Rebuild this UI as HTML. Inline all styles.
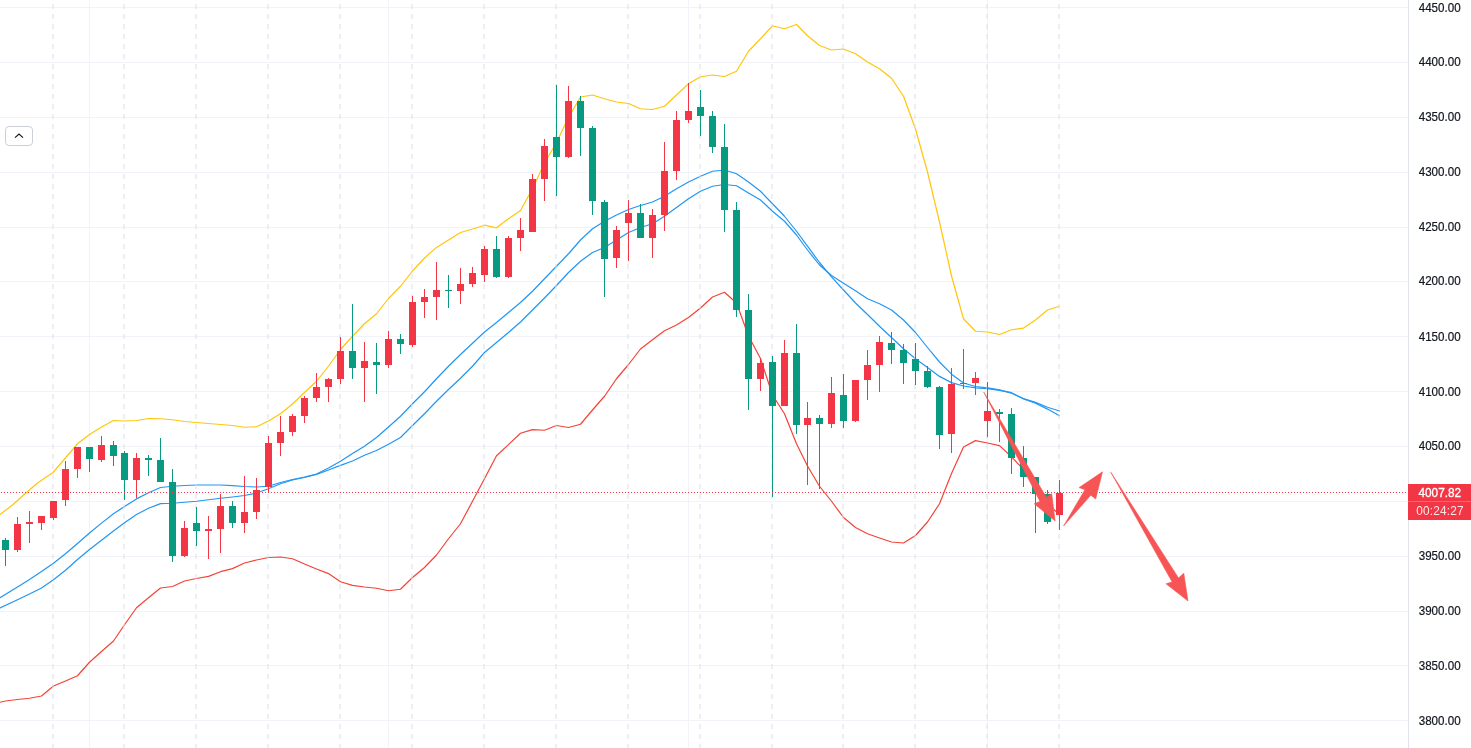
<!DOCTYPE html>
<html><head><meta charset="utf-8"><title>Chart</title>
<style>html,body{margin:0;padding:0;background:#fff;overflow:hidden}body{width:1471px;height:748px;font-family:"Liberation Sans",sans-serif}svg{display:block;will-change:transform}</style>
</head><body>
<svg width="1471" height="748" viewBox="0 0 1471 748">
<rect width="1471" height="748" fill="#fff"/>
<g fill="#f1f3f9" shape-rendering="crispEdges">
<rect x="0" y="7" width="1408" height="1"/>
<rect x="0" y="62" width="1408" height="1"/>
<rect x="0" y="117" width="1408" height="1"/>
<rect x="0" y="172" width="1408" height="1"/>
<rect x="0" y="227" width="1408" height="1"/>
<rect x="0" y="281" width="1408" height="1"/>
<rect x="0" y="336" width="1408" height="1"/>
<rect x="0" y="391" width="1408" height="1"/>
<rect x="0" y="446" width="1408" height="1"/>
<rect x="0" y="501" width="1408" height="1"/>
<rect x="0" y="556" width="1408" height="1"/>
<rect x="0" y="611" width="1408" height="1"/>
<rect x="0" y="665" width="1408" height="1"/>
<rect x="0" y="720" width="1408" height="1"/>
<rect x="89" y="0" width="1" height="748"/>
<rect x="388" y="0" width="1" height="748"/>
<rect x="688" y="0" width="1" height="748"/>
<rect x="987" y="0" width="1" height="748"/>
</g>
<g fill="none" stroke-width="1.2" stroke-linejoin="round" stroke-linecap="round">
<path d="M0,514.5 L12.5,505 L25,493.75 L37.5,483 L53,472.5 L65.5,458 L77.5,443.75 L89.5,434.5 L101.5,427 L113.5,420.5 L124.5,421 L136.5,420.5 L148.5,418.5 L160.5,418.75 L172.5,419.75 L184.5,421.5 L196.5,422.5 L208.5,423.5 L220.5,424.5 L232.5,425.5 L244.5,427.25 L256.5,426.75 L268.5,421 L280.5,413.75 L292.5,404 L304.5,392.5 L316.5,381.25 L328.5,366.25 L340.5,349.5 L352.5,336.25 L364.5,323.75 L376.5,313.75 L388.5,298.5 L400.5,286.25 L412.5,271 L424.5,258 L436.5,247.4 L448.5,239.9 L460.5,232.5 L472.5,229 L484.5,225.2 L496.5,227.8 L508.5,218.75 L520.5,210.5 L532.5,188.75 L544.5,163 L556.5,142.5 L568.5,117.5 L580.5,97 L592.5,95 L604.5,98.75 L616.5,102 L628.5,103.5 L640.5,108.75 L652.5,109.5 L664.5,106.25 L676.5,95 L688.5,83.75 L700.5,76.75 L712.5,75 L724.5,76.5 L736.5,71.25 L748.5,51.25 L760.5,38.75 L772.5,25.75 L784.5,28.75 L796.5,24.5 L807.5,35.75 L819.5,45.5 L831.5,50 L843.5,49 L855.5,53.75 L867.5,62 L879.5,68.75 L891.5,78.25 L903.5,96.25 L915.5,129 L927.5,172 L939.5,222 L951.5,276 L963.5,318.75 L975.5,331.25 L987.5,332 L999.5,334.5 L1011.5,329.75 L1023.5,328.1 L1035.5,320 L1047.5,310 L1059.5,306.25" stroke="#ffc60a"/>
<path d="M-6.5,703 L0,702.25 L5.5,701 L17.5,699.5 L29.5,698.25 L41.5,696 L53.5,686 L65.5,681 L77.5,675.75 L89.5,662.25 L101.5,651.5 L113.5,641 L124.5,624.75 L136.5,607.75 L148.5,597.75 L160.5,588 L172.5,586.5 L184.5,581 L196.5,578.5 L208.5,576.4 L220.5,571.7 L232.5,568.6 L244.5,563 L256.5,560 L268.5,557.5 L280.5,557 L292.5,558.75 L304.5,564 L316.5,569 L328.5,573.6 L340.5,581.75 L352.5,585.4 L364.5,587 L376.5,588.25 L388.5,590.75 L400.5,589.25 L412.5,577.5 L424.5,567.5 L436.5,555 L448.5,538.75 L460.5,523.75 L472.5,501.25 L484.5,478.75 L496.5,455.75 L508.5,444.6 L520.5,433.25 L532.5,429.6 L544.5,430.25 L556.5,425.5 L568.5,427.5 L580.5,424.25 L592.5,410 L604.5,396.25 L616.5,378.75 L628.5,364.5 L640.5,349 L652.5,339.8 L664.5,330.7 L676.5,325 L688.5,317.5 L700.5,308 L712.5,297 L724.5,292.2 L736.5,303 L748.5,336 L760.5,358.5 L772.5,395 L784.5,413.75 L796.5,443.75 L807.5,466 L819.5,486.25 L831.5,501.25 L843.5,517.5 L855.5,527.5 L867.5,533.75 L879.5,538 L891.5,542 L903.5,543 L915.5,535.5 L927.5,522 L939.5,503.75 L951.5,473.5 L963.5,447 L975.5,440.6 L987.5,443 L999.5,445.6 L1011.5,456.8 L1023.5,469.4 L1035.5,485 L1047.5,504 L1059.5,514.5" stroke="#f44336"/>
<path d="M-6.5,601.6 L0,597.75 L17.5,587 L29.5,579.5 L41.5,571.6 L53.5,563.3 L65.5,553.8 L77.5,543.5 L89.5,533 L101.5,523.1 L113.5,513.7 L124.5,506.5 L136.5,498.9 L148.5,492.8 L160.5,487.5 L172.5,486.25 L184.5,485.5 L196.5,485 L208.5,485 L220.5,485 L232.5,485.7 L244.5,486.5 L256.5,487 L268.5,486.25 L280.5,482.5 L292.5,479.5 L304.5,477 L316.5,474 L328.5,468 L340.5,461.2 L352.5,453.6 L364.5,446.25 L376.5,437.5 L388.5,427 L400.5,416.25 L412.5,403.75 L424.5,391.75 L436.5,378.75 L448.5,366.25 L460.5,354.5 L472.5,343.25 L484.5,332 L496.5,322.5 L508.5,312.5 L520.5,302.5 L532.5,291.25 L544.5,278.75 L556.5,266.25 L568.5,253.75 L580.5,240 L592.5,228.75 L604.5,221.25 L616.5,215 L628.5,209.5 L640.5,205.5 L652.5,202 L664.5,196.25 L676.5,188.75 L688.5,182 L700.5,176.25 L712.5,171.25 L724.5,170 L736.5,173.75 L748.5,182 L760.5,191.25 L772.5,203.75 L784.5,216.25 L796.5,231.25 L807.5,246.2 L819.5,262.5 L831.5,276.8 L843.5,290 L855.5,303 L867.5,314.5 L879.5,326.25 L891.5,337.5 L903.5,348.75 L915.5,358.75 L927.5,367.5 L939.5,376.4 L951.5,382.6 L963.5,386 L975.5,387.9 L987.5,388.6 L999.5,390.3 L1011.5,392.7 L1023.5,399 L1035.5,403.3 L1047.5,409.1 L1059.5,415.8" stroke="#2196f3"/>
<path d="M-6.5,611 L0,608 L17.5,599.75 L29.5,594 L41.5,588 L53.5,579.8 L65.5,570.3 L77.5,559.5 L89.5,549.5 L101.5,540.2 L113.5,531 L124.5,522.8 L136.5,514.5 L148.5,508.3 L160.5,503.6 L172.5,503.25 L184.5,502.25 L196.5,501.25 L208.5,499.75 L220.5,498.25 L232.5,497 L244.5,495.5 L256.5,493 L268.5,488.75 L280.5,483.75 L292.5,480 L304.5,477.5 L316.5,474.4 L328.5,470 L340.5,465.4 L352.5,461 L364.5,455.2 L376.5,450.5 L388.5,444.25 L400.5,437.5 L412.5,425.5 L424.5,413.75 L436.5,401.25 L448.5,389.5 L460.5,378.25 L472.5,366.25 L484.5,352.5 L496.5,342.5 L508.5,332.5 L520.5,322 L532.5,310 L544.5,298 L556.5,285.5 L568.5,272.5 L580.5,261.25 L592.5,252.5 L604.5,247.5 L616.5,240 L628.5,232.5 L640.5,227.5 L652.5,223.75 L664.5,216.25 L676.5,207.5 L688.5,198.75 L700.5,191.25 L712.5,186.25 L724.5,184.5 L736.5,185.75 L748.5,193 L760.5,200 L772.5,211.25 L784.5,221.25 L796.5,235 L807.5,250 L819.5,265 L831.5,275.5 L843.5,283.2 L855.5,290.8 L867.5,298.75 L879.5,303.75 L891.5,310 L903.5,320 L915.5,332.5 L927.5,347.5 L939.5,362 L951.5,374.2 L963.5,383 L975.5,386.5 L987.5,387.9 L999.5,389.8 L1011.5,393.2 L1023.5,398.5 L1035.5,402.4 L1047.5,407.2 L1059.5,411" stroke="#2196f3"/>
</g>
<g stroke="#dddfe9" stroke-opacity="0.5" stroke-width="2" stroke-dasharray="5 5" shape-rendering="crispEdges">
<line x1="53" y1="-6" x2="53" y2="748"/>
<line x1="124" y1="-6" x2="124" y2="748"/>
<line x1="196" y1="-6" x2="196" y2="748"/>
<line x1="268" y1="-6" x2="268" y2="748"/>
<line x1="340" y1="-6" x2="340" y2="748"/>
<line x1="412" y1="-6" x2="412" y2="748"/>
<line x1="484" y1="-6" x2="484" y2="748"/>
<line x1="556" y1="-6" x2="556" y2="748"/>
<line x1="628" y1="-6" x2="628" y2="748"/>
<line x1="700" y1="-6" x2="700" y2="748"/>
<line x1="772" y1="-6" x2="772" y2="748"/>
<line x1="843" y1="-6" x2="843" y2="748"/>
<line x1="915" y1="-6" x2="915" y2="748"/>
<line x1="987" y1="-6" x2="987" y2="748"/>
<line x1="1059" y1="-6" x2="1059" y2="748"/>
</g>
<g shape-rendering="crispEdges">
<rect x="5" y="538" width="1" height="28" fill="#089981"/>
<rect x="2" y="540" width="7" height="10" fill="#089981"/>
<rect x="17" y="517" width="1" height="35" fill="#f23645"/>
<rect x="14" y="524" width="7" height="26" fill="#f23645"/>
<rect x="29" y="511" width="1" height="32" fill="#f23645"/>
<rect x="26" y="522" width="7" height="2" fill="#f23645"/>
<rect x="41" y="516" width="1" height="14" fill="#f23645"/>
<rect x="38" y="516" width="7" height="7" fill="#f23645"/>
<rect x="53" y="501" width="1" height="19" fill="#f23645"/>
<rect x="50" y="501" width="7" height="17" fill="#f23645"/>
<rect x="65" y="461" width="1" height="45" fill="#f23645"/>
<rect x="62" y="469" width="7" height="31" fill="#f23645"/>
<rect x="77" y="447" width="1" height="31" fill="#f23645"/>
<rect x="74" y="447" width="7" height="22" fill="#f23645"/>
<rect x="89" y="447" width="1" height="25" fill="#089981"/>
<rect x="86" y="447" width="7" height="12" fill="#089981"/>
<rect x="101" y="436" width="1" height="26" fill="#f23645"/>
<rect x="98" y="445" width="7" height="15" fill="#f23645"/>
<rect x="113" y="441" width="1" height="25" fill="#089981"/>
<rect x="110" y="445" width="7" height="11" fill="#089981"/>
<rect x="124" y="451" width="1" height="49" fill="#089981"/>
<rect x="121" y="453" width="7" height="27" fill="#089981"/>
<rect x="136" y="453" width="1" height="45" fill="#f23645"/>
<rect x="133" y="458" width="7" height="22" fill="#f23645"/>
<rect x="148" y="455" width="1" height="21" fill="#089981"/>
<rect x="145" y="458" width="7" height="2" fill="#089981"/>
<rect x="160" y="438" width="1" height="44" fill="#089981"/>
<rect x="157" y="460" width="7" height="22" fill="#089981"/>
<rect x="172" y="469" width="1" height="93" fill="#089981"/>
<rect x="169" y="482" width="7" height="74" fill="#089981"/>
<rect x="184" y="521" width="1" height="36" fill="#f23645"/>
<rect x="181" y="528" width="7" height="28" fill="#f23645"/>
<rect x="196" y="507" width="1" height="39" fill="#089981"/>
<rect x="193" y="523" width="7" height="8" fill="#089981"/>
<rect x="208" y="516" width="1" height="43" fill="#f23645"/>
<rect x="205" y="529" width="7" height="2" fill="#f23645"/>
<rect x="220" y="494" width="1" height="59" fill="#f23645"/>
<rect x="217" y="506" width="7" height="23" fill="#f23645"/>
<rect x="232" y="501" width="1" height="27" fill="#089981"/>
<rect x="229" y="506" width="7" height="17" fill="#089981"/>
<rect x="244" y="476" width="1" height="57" fill="#f23645"/>
<rect x="241" y="512" width="7" height="11" fill="#f23645"/>
<rect x="256" y="478" width="1" height="41" fill="#f23645"/>
<rect x="253" y="490" width="7" height="22" fill="#f23645"/>
<rect x="268" y="436" width="1" height="57" fill="#f23645"/>
<rect x="265" y="443" width="7" height="44" fill="#f23645"/>
<rect x="280" y="416" width="1" height="40" fill="#f23645"/>
<rect x="277" y="432" width="7" height="11" fill="#f23645"/>
<rect x="292" y="414" width="1" height="22" fill="#f23645"/>
<rect x="289" y="416" width="7" height="16" fill="#f23645"/>
<rect x="304" y="396" width="1" height="27" fill="#f23645"/>
<rect x="301" y="398" width="7" height="18" fill="#f23645"/>
<rect x="316" y="373" width="1" height="29" fill="#f23645"/>
<rect x="313" y="387" width="7" height="11" fill="#f23645"/>
<rect x="328" y="378" width="1" height="24" fill="#f23645"/>
<rect x="325" y="379" width="7" height="8" fill="#f23645"/>
<rect x="340" y="337" width="1" height="47" fill="#f23645"/>
<rect x="337" y="351" width="7" height="28" fill="#f23645"/>
<rect x="352" y="304" width="1" height="75" fill="#089981"/>
<rect x="349" y="351" width="7" height="17" fill="#089981"/>
<rect x="364" y="342" width="1" height="60" fill="#f23645"/>
<rect x="361" y="361" width="7" height="7" fill="#f23645"/>
<rect x="376" y="343" width="1" height="51" fill="#089981"/>
<rect x="373" y="362" width="7" height="3" fill="#089981"/>
<rect x="388" y="331" width="1" height="37" fill="#f23645"/>
<rect x="385" y="339" width="7" height="26" fill="#f23645"/>
<rect x="400" y="334" width="1" height="20" fill="#089981"/>
<rect x="397" y="339" width="7" height="5" fill="#089981"/>
<rect x="412" y="296" width="1" height="51" fill="#f23645"/>
<rect x="409" y="302" width="7" height="43" fill="#f23645"/>
<rect x="424" y="289" width="1" height="29" fill="#f23645"/>
<rect x="421" y="297" width="7" height="5" fill="#f23645"/>
<rect x="436" y="262" width="1" height="58" fill="#f23645"/>
<rect x="433" y="290" width="7" height="7" fill="#f23645"/>
<rect x="448" y="275" width="1" height="33" fill="#089981"/>
<rect x="445" y="290" width="7" height="1" fill="#089981"/>
<rect x="460" y="268" width="1" height="36" fill="#f23645"/>
<rect x="457" y="284" width="7" height="7" fill="#f23645"/>
<rect x="472" y="267" width="1" height="20" fill="#f23645"/>
<rect x="469" y="273" width="7" height="11" fill="#f23645"/>
<rect x="484" y="246" width="1" height="36" fill="#f23645"/>
<rect x="481" y="249" width="7" height="26" fill="#f23645"/>
<rect x="496" y="236" width="1" height="42" fill="#089981"/>
<rect x="493" y="249" width="7" height="28" fill="#089981"/>
<rect x="508" y="236" width="1" height="42" fill="#f23645"/>
<rect x="505" y="238" width="7" height="39" fill="#f23645"/>
<rect x="520" y="218" width="1" height="33" fill="#f23645"/>
<rect x="517" y="230" width="7" height="8" fill="#f23645"/>
<rect x="532" y="174" width="1" height="58" fill="#f23645"/>
<rect x="529" y="179" width="7" height="53" fill="#f23645"/>
<rect x="544" y="139" width="1" height="62" fill="#f23645"/>
<rect x="541" y="146" width="7" height="33" fill="#f23645"/>
<rect x="556" y="85" width="1" height="111" fill="#089981"/>
<rect x="553" y="137" width="7" height="20" fill="#089981"/>
<rect x="568" y="86" width="1" height="72" fill="#f23645"/>
<rect x="565" y="101" width="7" height="56" fill="#f23645"/>
<rect x="580" y="96" width="1" height="60" fill="#089981"/>
<rect x="577" y="101" width="7" height="27" fill="#089981"/>
<rect x="592" y="126" width="1" height="89" fill="#089981"/>
<rect x="589" y="128" width="7" height="73" fill="#089981"/>
<rect x="604" y="200" width="1" height="97" fill="#089981"/>
<rect x="601" y="202" width="7" height="57" fill="#089981"/>
<rect x="616" y="226" width="1" height="42" fill="#f23645"/>
<rect x="613" y="230" width="7" height="28" fill="#f23645"/>
<rect x="628" y="200" width="1" height="61" fill="#f23645"/>
<rect x="625" y="213" width="7" height="10" fill="#f23645"/>
<rect x="640" y="204" width="1" height="34" fill="#089981"/>
<rect x="637" y="213" width="7" height="25" fill="#089981"/>
<rect x="652" y="209" width="1" height="49" fill="#f23645"/>
<rect x="649" y="215" width="7" height="23" fill="#f23645"/>
<rect x="664" y="142" width="1" height="89" fill="#f23645"/>
<rect x="661" y="171" width="7" height="44" fill="#f23645"/>
<rect x="676" y="111" width="1" height="69" fill="#f23645"/>
<rect x="673" y="120" width="7" height="51" fill="#f23645"/>
<rect x="688" y="83" width="1" height="40" fill="#f23645"/>
<rect x="685" y="111" width="7" height="9" fill="#f23645"/>
<rect x="700" y="90" width="1" height="46" fill="#089981"/>
<rect x="697" y="107" width="7" height="9" fill="#089981"/>
<rect x="712" y="111" width="1" height="42" fill="#089981"/>
<rect x="709" y="116" width="7" height="31" fill="#089981"/>
<rect x="724" y="124" width="1" height="108" fill="#089981"/>
<rect x="721" y="147" width="7" height="63" fill="#089981"/>
<rect x="736" y="202" width="1" height="115" fill="#089981"/>
<rect x="733" y="210" width="7" height="100" fill="#089981"/>
<rect x="748" y="294" width="1" height="116" fill="#089981"/>
<rect x="745" y="310" width="7" height="69" fill="#089981"/>
<rect x="760" y="358" width="1" height="33" fill="#f23645"/>
<rect x="757" y="363" width="7" height="16" fill="#f23645"/>
<rect x="772" y="356" width="1" height="141" fill="#089981"/>
<rect x="769" y="362" width="7" height="44" fill="#089981"/>
<rect x="784" y="340" width="1" height="66" fill="#f23645"/>
<rect x="781" y="353" width="7" height="53" fill="#f23645"/>
<rect x="796" y="324" width="1" height="110" fill="#089981"/>
<rect x="793" y="353" width="7" height="72" fill="#089981"/>
<rect x="807" y="402" width="1" height="83" fill="#f23645"/>
<rect x="804" y="418" width="7" height="7" fill="#f23645"/>
<rect x="819" y="415" width="1" height="74" fill="#089981"/>
<rect x="816" y="418" width="7" height="6" fill="#089981"/>
<rect x="831" y="377" width="1" height="51" fill="#f23645"/>
<rect x="828" y="393" width="7" height="31" fill="#f23645"/>
<rect x="843" y="374" width="1" height="54" fill="#089981"/>
<rect x="840" y="395" width="7" height="26" fill="#089981"/>
<rect x="855" y="380" width="1" height="42" fill="#f23645"/>
<rect x="852" y="380" width="7" height="41" fill="#f23645"/>
<rect x="867" y="350" width="1" height="50" fill="#f23645"/>
<rect x="864" y="365" width="7" height="15" fill="#f23645"/>
<rect x="879" y="336" width="1" height="56" fill="#f23645"/>
<rect x="876" y="342" width="7" height="23" fill="#f23645"/>
<rect x="891" y="332" width="1" height="32" fill="#089981"/>
<rect x="888" y="343" width="7" height="7" fill="#089981"/>
<rect x="903" y="344" width="1" height="40" fill="#089981"/>
<rect x="900" y="350" width="7" height="13" fill="#089981"/>
<rect x="915" y="343" width="1" height="42" fill="#089981"/>
<rect x="912" y="359" width="7" height="12" fill="#089981"/>
<rect x="927" y="366" width="1" height="22" fill="#089981"/>
<rect x="924" y="371" width="7" height="16" fill="#089981"/>
<rect x="939" y="386" width="1" height="63" fill="#089981"/>
<rect x="936" y="387" width="7" height="48" fill="#089981"/>
<rect x="951" y="368" width="1" height="85" fill="#f23645"/>
<rect x="948" y="384" width="7" height="50" fill="#f23645"/>
<rect x="963" y="349" width="1" height="40" fill="#f23645"/>
<rect x="960" y="383" width="7" height="1" fill="#f23645"/>
<rect x="975" y="372" width="1" height="23" fill="#f23645"/>
<rect x="972" y="378" width="7" height="5" fill="#f23645"/>
<rect x="987" y="382" width="1" height="55" fill="#f23645"/>
<rect x="984" y="411" width="7" height="10" fill="#f23645"/>
<rect x="999" y="409" width="1" height="33" fill="#089981"/>
<rect x="996" y="412" width="7" height="2" fill="#089981"/>
<rect x="1011" y="408" width="1" height="66" fill="#089981"/>
<rect x="1008" y="414" width="7" height="44" fill="#089981"/>
<rect x="1023" y="446" width="1" height="41" fill="#089981"/>
<rect x="1020" y="458" width="7" height="19" fill="#089981"/>
<rect x="1035" y="477" width="1" height="56" fill="#089981"/>
<rect x="1032" y="477" width="7" height="17" fill="#089981"/>
<rect x="1047" y="490" width="1" height="34" fill="#089981"/>
<rect x="1044" y="494" width="7" height="28" fill="#089981"/>
<rect x="1059" y="480" width="1" height="50" fill="#f23645"/>
<rect x="1056" y="493" width="7" height="22" fill="#f23645"/>
</g>
<g fill="#f23645" shape-rendering="crispEdges">
<rect x="1" y="492" width="1" height="1"/>
<rect x="4" y="492" width="1" height="1"/>
<rect x="7" y="492" width="1" height="1"/>
<rect x="10" y="492" width="1" height="1"/>
<rect x="13" y="492" width="1" height="1"/>
<rect x="16" y="492" width="1" height="1"/>
<rect x="19" y="492" width="1" height="1"/>
<rect x="22" y="492" width="1" height="1"/>
<rect x="25" y="492" width="1" height="1"/>
<rect x="28" y="492" width="1" height="1"/>
<rect x="31" y="492" width="1" height="1"/>
<rect x="34" y="492" width="1" height="1"/>
<rect x="37" y="492" width="1" height="1"/>
<rect x="40" y="492" width="1" height="1"/>
<rect x="43" y="492" width="1" height="1"/>
<rect x="46" y="492" width="1" height="1"/>
<rect x="49" y="492" width="1" height="1"/>
<rect x="52" y="492" width="1" height="1"/>
<rect x="55" y="492" width="1" height="1"/>
<rect x="58" y="492" width="1" height="1"/>
<rect x="61" y="492" width="1" height="1"/>
<rect x="64" y="492" width="1" height="1"/>
<rect x="67" y="492" width="1" height="1"/>
<rect x="70" y="492" width="1" height="1"/>
<rect x="73" y="492" width="1" height="1"/>
<rect x="76" y="492" width="1" height="1"/>
<rect x="79" y="492" width="1" height="1"/>
<rect x="82" y="492" width="1" height="1"/>
<rect x="85" y="492" width="1" height="1"/>
<rect x="88" y="492" width="1" height="1"/>
<rect x="91" y="492" width="1" height="1"/>
<rect x="94" y="492" width="1" height="1"/>
<rect x="97" y="492" width="1" height="1"/>
<rect x="100" y="492" width="1" height="1"/>
<rect x="103" y="492" width="1" height="1"/>
<rect x="106" y="492" width="1" height="1"/>
<rect x="109" y="492" width="1" height="1"/>
<rect x="112" y="492" width="1" height="1"/>
<rect x="115" y="492" width="1" height="1"/>
<rect x="118" y="492" width="1" height="1"/>
<rect x="121" y="492" width="1" height="1"/>
<rect x="124" y="492" width="1" height="1"/>
<rect x="127" y="492" width="1" height="1"/>
<rect x="130" y="492" width="1" height="1"/>
<rect x="133" y="492" width="1" height="1"/>
<rect x="136" y="492" width="1" height="1"/>
<rect x="139" y="492" width="1" height="1"/>
<rect x="142" y="492" width="1" height="1"/>
<rect x="145" y="492" width="1" height="1"/>
<rect x="148" y="492" width="1" height="1"/>
<rect x="151" y="492" width="1" height="1"/>
<rect x="154" y="492" width="1" height="1"/>
<rect x="157" y="492" width="1" height="1"/>
<rect x="160" y="492" width="1" height="1"/>
<rect x="163" y="492" width="1" height="1"/>
<rect x="166" y="492" width="1" height="1"/>
<rect x="169" y="492" width="1" height="1"/>
<rect x="172" y="492" width="1" height="1"/>
<rect x="175" y="492" width="1" height="1"/>
<rect x="178" y="492" width="1" height="1"/>
<rect x="181" y="492" width="1" height="1"/>
<rect x="184" y="492" width="1" height="1"/>
<rect x="187" y="492" width="1" height="1"/>
<rect x="190" y="492" width="1" height="1"/>
<rect x="193" y="492" width="1" height="1"/>
<rect x="196" y="492" width="1" height="1"/>
<rect x="199" y="492" width="1" height="1"/>
<rect x="202" y="492" width="1" height="1"/>
<rect x="205" y="492" width="1" height="1"/>
<rect x="208" y="492" width="1" height="1"/>
<rect x="211" y="492" width="1" height="1"/>
<rect x="214" y="492" width="1" height="1"/>
<rect x="217" y="492" width="1" height="1"/>
<rect x="220" y="492" width="1" height="1"/>
<rect x="223" y="492" width="1" height="1"/>
<rect x="226" y="492" width="1" height="1"/>
<rect x="229" y="492" width="1" height="1"/>
<rect x="232" y="492" width="1" height="1"/>
<rect x="235" y="492" width="1" height="1"/>
<rect x="238" y="492" width="1" height="1"/>
<rect x="241" y="492" width="1" height="1"/>
<rect x="244" y="492" width="1" height="1"/>
<rect x="247" y="492" width="1" height="1"/>
<rect x="250" y="492" width="1" height="1"/>
<rect x="253" y="492" width="1" height="1"/>
<rect x="256" y="492" width="1" height="1"/>
<rect x="259" y="492" width="1" height="1"/>
<rect x="262" y="492" width="1" height="1"/>
<rect x="265" y="492" width="1" height="1"/>
<rect x="268" y="492" width="1" height="1"/>
<rect x="271" y="492" width="1" height="1"/>
<rect x="274" y="492" width="1" height="1"/>
<rect x="277" y="492" width="1" height="1"/>
<rect x="280" y="492" width="1" height="1"/>
<rect x="283" y="492" width="1" height="1"/>
<rect x="286" y="492" width="1" height="1"/>
<rect x="289" y="492" width="1" height="1"/>
<rect x="292" y="492" width="1" height="1"/>
<rect x="295" y="492" width="1" height="1"/>
<rect x="298" y="492" width="1" height="1"/>
<rect x="301" y="492" width="1" height="1"/>
<rect x="304" y="492" width="1" height="1"/>
<rect x="307" y="492" width="1" height="1"/>
<rect x="310" y="492" width="1" height="1"/>
<rect x="313" y="492" width="1" height="1"/>
<rect x="316" y="492" width="1" height="1"/>
<rect x="319" y="492" width="1" height="1"/>
<rect x="322" y="492" width="1" height="1"/>
<rect x="325" y="492" width="1" height="1"/>
<rect x="328" y="492" width="1" height="1"/>
<rect x="331" y="492" width="1" height="1"/>
<rect x="334" y="492" width="1" height="1"/>
<rect x="337" y="492" width="1" height="1"/>
<rect x="340" y="492" width="1" height="1"/>
<rect x="343" y="492" width="1" height="1"/>
<rect x="346" y="492" width="1" height="1"/>
<rect x="349" y="492" width="1" height="1"/>
<rect x="352" y="492" width="1" height="1"/>
<rect x="355" y="492" width="1" height="1"/>
<rect x="358" y="492" width="1" height="1"/>
<rect x="361" y="492" width="1" height="1"/>
<rect x="364" y="492" width="1" height="1"/>
<rect x="367" y="492" width="1" height="1"/>
<rect x="370" y="492" width="1" height="1"/>
<rect x="373" y="492" width="1" height="1"/>
<rect x="376" y="492" width="1" height="1"/>
<rect x="379" y="492" width="1" height="1"/>
<rect x="382" y="492" width="1" height="1"/>
<rect x="385" y="492" width="1" height="1"/>
<rect x="388" y="492" width="1" height="1"/>
<rect x="391" y="492" width="1" height="1"/>
<rect x="394" y="492" width="1" height="1"/>
<rect x="397" y="492" width="1" height="1"/>
<rect x="400" y="492" width="1" height="1"/>
<rect x="403" y="492" width="1" height="1"/>
<rect x="406" y="492" width="1" height="1"/>
<rect x="409" y="492" width="1" height="1"/>
<rect x="412" y="492" width="1" height="1"/>
<rect x="415" y="492" width="1" height="1"/>
<rect x="418" y="492" width="1" height="1"/>
<rect x="421" y="492" width="1" height="1"/>
<rect x="424" y="492" width="1" height="1"/>
<rect x="427" y="492" width="1" height="1"/>
<rect x="430" y="492" width="1" height="1"/>
<rect x="433" y="492" width="1" height="1"/>
<rect x="436" y="492" width="1" height="1"/>
<rect x="439" y="492" width="1" height="1"/>
<rect x="442" y="492" width="1" height="1"/>
<rect x="445" y="492" width="1" height="1"/>
<rect x="448" y="492" width="1" height="1"/>
<rect x="451" y="492" width="1" height="1"/>
<rect x="454" y="492" width="1" height="1"/>
<rect x="457" y="492" width="1" height="1"/>
<rect x="460" y="492" width="1" height="1"/>
<rect x="463" y="492" width="1" height="1"/>
<rect x="466" y="492" width="1" height="1"/>
<rect x="469" y="492" width="1" height="1"/>
<rect x="472" y="492" width="1" height="1"/>
<rect x="475" y="492" width="1" height="1"/>
<rect x="478" y="492" width="1" height="1"/>
<rect x="481" y="492" width="1" height="1"/>
<rect x="484" y="492" width="1" height="1"/>
<rect x="487" y="492" width="1" height="1"/>
<rect x="490" y="492" width="1" height="1"/>
<rect x="493" y="492" width="1" height="1"/>
<rect x="496" y="492" width="1" height="1"/>
<rect x="499" y="492" width="1" height="1"/>
<rect x="502" y="492" width="1" height="1"/>
<rect x="505" y="492" width="1" height="1"/>
<rect x="508" y="492" width="1" height="1"/>
<rect x="511" y="492" width="1" height="1"/>
<rect x="514" y="492" width="1" height="1"/>
<rect x="517" y="492" width="1" height="1"/>
<rect x="520" y="492" width="1" height="1"/>
<rect x="523" y="492" width="1" height="1"/>
<rect x="526" y="492" width="1" height="1"/>
<rect x="529" y="492" width="1" height="1"/>
<rect x="532" y="492" width="1" height="1"/>
<rect x="535" y="492" width="1" height="1"/>
<rect x="538" y="492" width="1" height="1"/>
<rect x="541" y="492" width="1" height="1"/>
<rect x="544" y="492" width="1" height="1"/>
<rect x="547" y="492" width="1" height="1"/>
<rect x="550" y="492" width="1" height="1"/>
<rect x="553" y="492" width="1" height="1"/>
<rect x="556" y="492" width="1" height="1"/>
<rect x="559" y="492" width="1" height="1"/>
<rect x="562" y="492" width="1" height="1"/>
<rect x="565" y="492" width="1" height="1"/>
<rect x="568" y="492" width="1" height="1"/>
<rect x="571" y="492" width="1" height="1"/>
<rect x="574" y="492" width="1" height="1"/>
<rect x="577" y="492" width="1" height="1"/>
<rect x="580" y="492" width="1" height="1"/>
<rect x="583" y="492" width="1" height="1"/>
<rect x="586" y="492" width="1" height="1"/>
<rect x="589" y="492" width="1" height="1"/>
<rect x="592" y="492" width="1" height="1"/>
<rect x="595" y="492" width="1" height="1"/>
<rect x="598" y="492" width="1" height="1"/>
<rect x="601" y="492" width="1" height="1"/>
<rect x="604" y="492" width="1" height="1"/>
<rect x="607" y="492" width="1" height="1"/>
<rect x="610" y="492" width="1" height="1"/>
<rect x="613" y="492" width="1" height="1"/>
<rect x="616" y="492" width="1" height="1"/>
<rect x="619" y="492" width="1" height="1"/>
<rect x="622" y="492" width="1" height="1"/>
<rect x="625" y="492" width="1" height="1"/>
<rect x="628" y="492" width="1" height="1"/>
<rect x="631" y="492" width="1" height="1"/>
<rect x="634" y="492" width="1" height="1"/>
<rect x="637" y="492" width="1" height="1"/>
<rect x="640" y="492" width="1" height="1"/>
<rect x="643" y="492" width="1" height="1"/>
<rect x="646" y="492" width="1" height="1"/>
<rect x="649" y="492" width="1" height="1"/>
<rect x="652" y="492" width="1" height="1"/>
<rect x="655" y="492" width="1" height="1"/>
<rect x="658" y="492" width="1" height="1"/>
<rect x="661" y="492" width="1" height="1"/>
<rect x="664" y="492" width="1" height="1"/>
<rect x="667" y="492" width="1" height="1"/>
<rect x="670" y="492" width="1" height="1"/>
<rect x="673" y="492" width="1" height="1"/>
<rect x="676" y="492" width="1" height="1"/>
<rect x="679" y="492" width="1" height="1"/>
<rect x="682" y="492" width="1" height="1"/>
<rect x="685" y="492" width="1" height="1"/>
<rect x="688" y="492" width="1" height="1"/>
<rect x="691" y="492" width="1" height="1"/>
<rect x="694" y="492" width="1" height="1"/>
<rect x="697" y="492" width="1" height="1"/>
<rect x="700" y="492" width="1" height="1"/>
<rect x="703" y="492" width="1" height="1"/>
<rect x="706" y="492" width="1" height="1"/>
<rect x="709" y="492" width="1" height="1"/>
<rect x="712" y="492" width="1" height="1"/>
<rect x="715" y="492" width="1" height="1"/>
<rect x="718" y="492" width="1" height="1"/>
<rect x="721" y="492" width="1" height="1"/>
<rect x="724" y="492" width="1" height="1"/>
<rect x="727" y="492" width="1" height="1"/>
<rect x="730" y="492" width="1" height="1"/>
<rect x="733" y="492" width="1" height="1"/>
<rect x="736" y="492" width="1" height="1"/>
<rect x="739" y="492" width="1" height="1"/>
<rect x="742" y="492" width="1" height="1"/>
<rect x="745" y="492" width="1" height="1"/>
<rect x="748" y="492" width="1" height="1"/>
<rect x="751" y="492" width="1" height="1"/>
<rect x="754" y="492" width="1" height="1"/>
<rect x="757" y="492" width="1" height="1"/>
<rect x="760" y="492" width="1" height="1"/>
<rect x="763" y="492" width="1" height="1"/>
<rect x="766" y="492" width="1" height="1"/>
<rect x="769" y="492" width="1" height="1"/>
<rect x="772" y="492" width="1" height="1"/>
<rect x="775" y="492" width="1" height="1"/>
<rect x="778" y="492" width="1" height="1"/>
<rect x="781" y="492" width="1" height="1"/>
<rect x="784" y="492" width="1" height="1"/>
<rect x="787" y="492" width="1" height="1"/>
<rect x="790" y="492" width="1" height="1"/>
<rect x="793" y="492" width="1" height="1"/>
<rect x="796" y="492" width="1" height="1"/>
<rect x="799" y="492" width="1" height="1"/>
<rect x="802" y="492" width="1" height="1"/>
<rect x="805" y="492" width="1" height="1"/>
<rect x="808" y="492" width="1" height="1"/>
<rect x="811" y="492" width="1" height="1"/>
<rect x="814" y="492" width="1" height="1"/>
<rect x="817" y="492" width="1" height="1"/>
<rect x="820" y="492" width="1" height="1"/>
<rect x="823" y="492" width="1" height="1"/>
<rect x="826" y="492" width="1" height="1"/>
<rect x="829" y="492" width="1" height="1"/>
<rect x="832" y="492" width="1" height="1"/>
<rect x="835" y="492" width="1" height="1"/>
<rect x="838" y="492" width="1" height="1"/>
<rect x="841" y="492" width="1" height="1"/>
<rect x="844" y="492" width="1" height="1"/>
<rect x="847" y="492" width="1" height="1"/>
<rect x="850" y="492" width="1" height="1"/>
<rect x="853" y="492" width="1" height="1"/>
<rect x="856" y="492" width="1" height="1"/>
<rect x="859" y="492" width="1" height="1"/>
<rect x="862" y="492" width="1" height="1"/>
<rect x="865" y="492" width="1" height="1"/>
<rect x="868" y="492" width="1" height="1"/>
<rect x="871" y="492" width="1" height="1"/>
<rect x="874" y="492" width="1" height="1"/>
<rect x="877" y="492" width="1" height="1"/>
<rect x="880" y="492" width="1" height="1"/>
<rect x="883" y="492" width="1" height="1"/>
<rect x="886" y="492" width="1" height="1"/>
<rect x="889" y="492" width="1" height="1"/>
<rect x="892" y="492" width="1" height="1"/>
<rect x="895" y="492" width="1" height="1"/>
<rect x="898" y="492" width="1" height="1"/>
<rect x="901" y="492" width="1" height="1"/>
<rect x="904" y="492" width="1" height="1"/>
<rect x="907" y="492" width="1" height="1"/>
<rect x="910" y="492" width="1" height="1"/>
<rect x="913" y="492" width="1" height="1"/>
<rect x="916" y="492" width="1" height="1"/>
<rect x="919" y="492" width="1" height="1"/>
<rect x="922" y="492" width="1" height="1"/>
<rect x="925" y="492" width="1" height="1"/>
<rect x="928" y="492" width="1" height="1"/>
<rect x="931" y="492" width="1" height="1"/>
<rect x="934" y="492" width="1" height="1"/>
<rect x="937" y="492" width="1" height="1"/>
<rect x="940" y="492" width="1" height="1"/>
<rect x="943" y="492" width="1" height="1"/>
<rect x="946" y="492" width="1" height="1"/>
<rect x="949" y="492" width="1" height="1"/>
<rect x="952" y="492" width="1" height="1"/>
<rect x="955" y="492" width="1" height="1"/>
<rect x="958" y="492" width="1" height="1"/>
<rect x="961" y="492" width="1" height="1"/>
<rect x="964" y="492" width="1" height="1"/>
<rect x="967" y="492" width="1" height="1"/>
<rect x="970" y="492" width="1" height="1"/>
<rect x="973" y="492" width="1" height="1"/>
<rect x="976" y="492" width="1" height="1"/>
<rect x="979" y="492" width="1" height="1"/>
<rect x="982" y="492" width="1" height="1"/>
<rect x="985" y="492" width="1" height="1"/>
<rect x="988" y="492" width="1" height="1"/>
<rect x="991" y="492" width="1" height="1"/>
<rect x="994" y="492" width="1" height="1"/>
<rect x="997" y="492" width="1" height="1"/>
<rect x="1000" y="492" width="1" height="1"/>
<rect x="1003" y="492" width="1" height="1"/>
<rect x="1006" y="492" width="1" height="1"/>
<rect x="1009" y="492" width="1" height="1"/>
<rect x="1012" y="492" width="1" height="1"/>
<rect x="1015" y="492" width="1" height="1"/>
<rect x="1018" y="492" width="1" height="1"/>
<rect x="1021" y="492" width="1" height="1"/>
<rect x="1024" y="492" width="1" height="1"/>
<rect x="1027" y="492" width="1" height="1"/>
<rect x="1030" y="492" width="1" height="1"/>
<rect x="1033" y="492" width="1" height="1"/>
<rect x="1036" y="492" width="1" height="1"/>
<rect x="1039" y="492" width="1" height="1"/>
<rect x="1042" y="492" width="1" height="1"/>
<rect x="1045" y="492" width="1" height="1"/>
<rect x="1048" y="492" width="1" height="1"/>
<rect x="1051" y="492" width="1" height="1"/>
<rect x="1054" y="492" width="1" height="1"/>
<rect x="1057" y="492" width="1" height="1"/>
<rect x="1060" y="492" width="1" height="1"/>
<rect x="1063" y="492" width="1" height="1"/>
<rect x="1066" y="492" width="1" height="1"/>
<rect x="1069" y="492" width="1" height="1"/>
<rect x="1072" y="492" width="1" height="1"/>
<rect x="1075" y="492" width="1" height="1"/>
<rect x="1078" y="492" width="1" height="1"/>
<rect x="1081" y="492" width="1" height="1"/>
<rect x="1084" y="492" width="1" height="1"/>
<rect x="1087" y="492" width="1" height="1"/>
<rect x="1090" y="492" width="1" height="1"/>
<rect x="1093" y="492" width="1" height="1"/>
<rect x="1096" y="492" width="1" height="1"/>
<rect x="1099" y="492" width="1" height="1"/>
<rect x="1102" y="492" width="1" height="1"/>
<rect x="1105" y="492" width="1" height="1"/>
<rect x="1108" y="492" width="1" height="1"/>
<rect x="1111" y="492" width="1" height="1"/>
<rect x="1114" y="492" width="1" height="1"/>
<rect x="1117" y="492" width="1" height="1"/>
<rect x="1120" y="492" width="1" height="1"/>
<rect x="1123" y="492" width="1" height="1"/>
<rect x="1126" y="492" width="1" height="1"/>
<rect x="1129" y="492" width="1" height="1"/>
<rect x="1132" y="492" width="1" height="1"/>
<rect x="1135" y="492" width="1" height="1"/>
<rect x="1138" y="492" width="1" height="1"/>
<rect x="1141" y="492" width="1" height="1"/>
<rect x="1144" y="492" width="1" height="1"/>
<rect x="1147" y="492" width="1" height="1"/>
<rect x="1150" y="492" width="1" height="1"/>
<rect x="1153" y="492" width="1" height="1"/>
<rect x="1156" y="492" width="1" height="1"/>
<rect x="1159" y="492" width="1" height="1"/>
<rect x="1162" y="492" width="1" height="1"/>
<rect x="1165" y="492" width="1" height="1"/>
<rect x="1168" y="492" width="1" height="1"/>
<rect x="1171" y="492" width="1" height="1"/>
<rect x="1174" y="492" width="1" height="1"/>
<rect x="1177" y="492" width="1" height="1"/>
<rect x="1180" y="492" width="1" height="1"/>
<rect x="1183" y="492" width="1" height="1"/>
<rect x="1186" y="492" width="1" height="1"/>
<rect x="1189" y="492" width="1" height="1"/>
<rect x="1192" y="492" width="1" height="1"/>
<rect x="1195" y="492" width="1" height="1"/>
<rect x="1198" y="492" width="1" height="1"/>
<rect x="1201" y="492" width="1" height="1"/>
<rect x="1204" y="492" width="1" height="1"/>
<rect x="1207" y="492" width="1" height="1"/>
<rect x="1210" y="492" width="1" height="1"/>
<rect x="1213" y="492" width="1" height="1"/>
<rect x="1216" y="492" width="1" height="1"/>
<rect x="1219" y="492" width="1" height="1"/>
<rect x="1222" y="492" width="1" height="1"/>
<rect x="1225" y="492" width="1" height="1"/>
<rect x="1228" y="492" width="1" height="1"/>
<rect x="1231" y="492" width="1" height="1"/>
<rect x="1234" y="492" width="1" height="1"/>
<rect x="1237" y="492" width="1" height="1"/>
<rect x="1240" y="492" width="1" height="1"/>
<rect x="1243" y="492" width="1" height="1"/>
<rect x="1246" y="492" width="1" height="1"/>
<rect x="1249" y="492" width="1" height="1"/>
<rect x="1252" y="492" width="1" height="1"/>
<rect x="1255" y="492" width="1" height="1"/>
<rect x="1258" y="492" width="1" height="1"/>
<rect x="1261" y="492" width="1" height="1"/>
<rect x="1264" y="492" width="1" height="1"/>
<rect x="1267" y="492" width="1" height="1"/>
<rect x="1270" y="492" width="1" height="1"/>
<rect x="1273" y="492" width="1" height="1"/>
<rect x="1276" y="492" width="1" height="1"/>
<rect x="1279" y="492" width="1" height="1"/>
<rect x="1282" y="492" width="1" height="1"/>
<rect x="1285" y="492" width="1" height="1"/>
<rect x="1288" y="492" width="1" height="1"/>
<rect x="1291" y="492" width="1" height="1"/>
<rect x="1294" y="492" width="1" height="1"/>
<rect x="1297" y="492" width="1" height="1"/>
<rect x="1300" y="492" width="1" height="1"/>
<rect x="1303" y="492" width="1" height="1"/>
<rect x="1306" y="492" width="1" height="1"/>
<rect x="1309" y="492" width="1" height="1"/>
<rect x="1312" y="492" width="1" height="1"/>
<rect x="1315" y="492" width="1" height="1"/>
<rect x="1318" y="492" width="1" height="1"/>
<rect x="1321" y="492" width="1" height="1"/>
<rect x="1324" y="492" width="1" height="1"/>
<rect x="1327" y="492" width="1" height="1"/>
<rect x="1330" y="492" width="1" height="1"/>
<rect x="1333" y="492" width="1" height="1"/>
<rect x="1336" y="492" width="1" height="1"/>
<rect x="1339" y="492" width="1" height="1"/>
<rect x="1342" y="492" width="1" height="1"/>
<rect x="1345" y="492" width="1" height="1"/>
<rect x="1348" y="492" width="1" height="1"/>
<rect x="1351" y="492" width="1" height="1"/>
<rect x="1354" y="492" width="1" height="1"/>
<rect x="1357" y="492" width="1" height="1"/>
<rect x="1360" y="492" width="1" height="1"/>
<rect x="1363" y="492" width="1" height="1"/>
<rect x="1366" y="492" width="1" height="1"/>
<rect x="1369" y="492" width="1" height="1"/>
<rect x="1372" y="492" width="1" height="1"/>
<rect x="1375" y="492" width="1" height="1"/>
<rect x="1378" y="492" width="1" height="1"/>
<rect x="1381" y="492" width="1" height="1"/>
<rect x="1384" y="492" width="1" height="1"/>
<rect x="1387" y="492" width="1" height="1"/>
<rect x="1390" y="492" width="1" height="1"/>
<rect x="1393" y="492" width="1" height="1"/>
<rect x="1396" y="492" width="1" height="1"/>
<rect x="1399" y="492" width="1" height="1"/>
<rect x="1402" y="492" width="1" height="1"/>
<rect x="1405" y="492" width="1" height="1"/>
</g>
<path d="M983.7,392 L1046.4,497.3 L1051.7,493.7 L1055.1,520.9 L1034.2,503.8 L1040,501.5Z" fill="#f75555" stroke="#f75555" stroke-width="0.6" stroke-linejoin="miter"/>
<path d="M1063.6,525.9 L1084.9,489.8 L1079.1,487.6 L1102.5,471.8 L1095.7,498.9 L1090.8,495.2Z" fill="#f75555" stroke="#f75555" stroke-width="0.6" stroke-linejoin="miter"/>
<path d="M1110.8,472.2 L1178.5,577.9 L1183.8,573.2 L1188,601 L1166,583.8 L1172.1,581.9Z" fill="#f75555" stroke="#f75555" stroke-width="0.6" stroke-linejoin="miter"/>
<rect x="1408" y="0" width="1" height="748" fill="#e0e3eb" shape-rendering="crispEdges"/>
<g font-family="Liberation Sans, sans-serif" font-size="11.6" fill="#131722" stroke="#131722" stroke-width="0.2">
<text transform="translate(1418.7,12.00) scale(1,1.04)">4450.00</text>
<text transform="translate(1418.7,66.00) scale(1,1.04)">4400.00</text>
<text transform="translate(1418.7,121.00) scale(1,1.04)">4350.00</text>
<text transform="translate(1418.7,176.00) scale(1,1.04)">4300.00</text>
<text transform="translate(1418.7,231.00) scale(1,1.04)">4250.00</text>
<text transform="translate(1418.7,285.00) scale(1,1.04)">4200.00</text>
<text transform="translate(1418.7,341.00) scale(1,1.04)">4150.00</text>
<text transform="translate(1418.7,396.00) scale(1,1.04)">4100.00</text>
<text transform="translate(1418.7,450.00) scale(1,1.04)">4050.00</text>
<text transform="translate(1418.7,560.00) scale(1,1.04)">3950.00</text>
<text transform="translate(1418.7,615.00) scale(1,1.04)">3900.00</text>
<text transform="translate(1418.7,670.00) scale(1,1.04)">3850.00</text>
<text transform="translate(1418.7,725.00) scale(1,1.04)">3800.00</text>
</g>
<rect x="1408" y="484" width="63" height="36" fill="#f23645" shape-rendering="crispEdges"/>
<rect x="1408" y="501" width="63" height="1" fill="#fff" fill-opacity="0.25" shape-rendering="crispEdges"/>
<g font-family="Liberation Sans, sans-serif" font-size="11.8" fill="#fff">
<text transform="translate(1418.5,496.5) scale(1,1.05)" stroke="#fff" stroke-width="0.3">4007.82</text>
<text transform="translate(1416.3,514.8) scale(1,1.05)" letter-spacing="0.2" fill-opacity="0.88">00:24:27</text>
</g>
<rect x="5.5" y="126.5" width="27" height="19" rx="3.5" fill="#fff" stroke="#cbcfd9" stroke-width="1"/>
<path d="M15,137.7 L19,134 L23,137.7" fill="none" stroke="#131722" stroke-width="1.15" stroke-linecap="butt" stroke-linejoin="miter"/>
</svg>
</body></html>
